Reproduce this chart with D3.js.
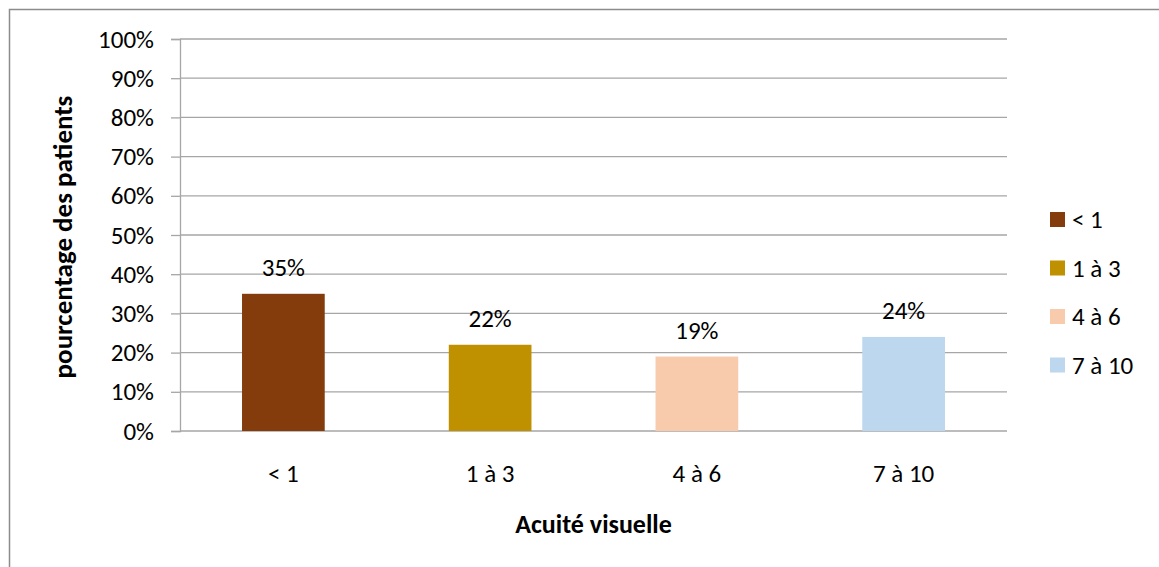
<!DOCTYPE html>
<html>
<head>
<meta charset="utf-8">
<script src="https://cdn.jsdelivr.net/npm/d3@7"></script>
<style>
  html, body { margin: 0; padding: 0; background: #fff; }
  svg { display: block; }
  text { font-family: Carlito, Lato, "Open Sans", sans-serif; fill: #000; }
</style>
</head>
<body>
<svg id="chart" width="1159" height="567"></svg>
<script>
// Répartition des patients selon l'acuité visuelle
const categories = ["< 1", "1 à 3", "4 à 6", "7 à 10"];
const values = [35, 22, 19, 24];
const colors = ["#843C0C", "#BF9000", "#F8CBAD", "#BDD7EE"];
const yTicks = [0, 10, 20, 30, 40, 50, 60, 70, 80, 90, 100];

const svg = d3.select("#chart");
const W = 1159, H = 567;
const plot = { left: 180, right: 1007, top: 39, bottom: 431 };
const fs = "25px";

// Outer frame of the chart area (runs past the right and bottom edges)
svg.append("path")
  .attr("d", `M9.5,${H + 5} V9.5 H${W + 5}`)
  .attr("fill", "none")
  .attr("stroke", "#8c8c8c")
  .attr("stroke-width", 1.5);

const x = d3.scaleBand()
  .domain(categories)
  .range([plot.left, plot.right])
  .paddingInner(0.6)
  .paddingOuter(0.3);

const y = d3.scaleLinear()
  .domain([0, 100])
  .range([plot.bottom, plot.top]);

// Horizontal gridlines
svg.append("g")
  .selectAll("line")
  .data(yTicks)
  .join("line")
  .attr("x1", plot.left)
  .attr("x2", plot.right)
  .attr("y1", d => y(d))
  .attr("y2", d => y(d))
  .attr("stroke", "#a6a6a6")
  .attr("stroke-width", 1.3);

// Value axis with percentage labels
const yAxis = d3.axisLeft(y)
  .tickValues(yTicks)
  .tickFormat(d => d + "%")
  .tickSize(9)
  .tickPadding(17);

const gy = svg.append("g")
  .attr("transform", `translate(${plot.left},0)`)
  .call(yAxis);
gy.select(".domain").attr("stroke", "#a6a6a6").attr("stroke-width", 1.3);
gy.selectAll(".tick line").attr("stroke", "#a6a6a6").attr("stroke-width", 1.3);
gy.selectAll(".tick text")
  .style("font-size", fs)
  .attr("fill", "#000");

// Bars
svg.append("g")
  .selectAll("rect")
  .data(values)
  .join("rect")
  .attr("x", (d, i) => x(categories[i]))
  .attr("width", x.bandwidth())
  .attr("y", d => y(d))
  .attr("height", d => y(0) - y(d))
  .attr("fill", (d, i) => colors[i]);

// Value labels
svg.append("g")
  .selectAll("text")
  .data(values)
  .join("text")
  .attr("x", (d, i) => x(categories[i]) + x.bandwidth() / 2)
  .attr("y", d => y(d) - 18)
  .attr("text-anchor", "middle")
  .style("font-size", fs)
  .text(d => d + "%");

// Category axis
const gx = svg.append("g")
  .attr("transform", `translate(0,${plot.bottom})`)
  .call(d3.axisBottom(x).tickSize(0).tickPadding(33));
gx.select(".domain").remove();
gx.selectAll(".tick text")
  .style("font-size", fs)
  .attr("fill", "#000");

// Axis titles
svg.append("text")
  .attr("x", (plot.left + plot.right) / 2)
  .attr("y", 533)
  .attr("text-anchor", "middle")
  .style("font-size", "26px")
  .style("font-weight", "bold")
  .text("Acuité visuelle");

svg.append("text")
  .attr("transform", `translate(72,${(plot.top + plot.bottom) / 2 + 2}) rotate(-90)`)
  .attr("text-anchor", "middle")
  .style("font-size", "27px")
  .style("font-weight", "bold")
  .text("pourcentage des patients");

// Legend
const legend = svg.append("g")
  .selectAll("g")
  .data(categories)
  .join("g")
  .attr("transform", (d, i) => `translate(1050,${212 + i * 48.5})`);
legend.append("rect")
  .attr("width", 15)
  .attr("height", 15)
  .attr("fill", (d, i) => colors[i]);
legend.append("text")
  .attr("x", 22)
  .attr("y", 16)
  .style("font-size", fs)
  .text(d => d);
</script>
</body>
</html>
